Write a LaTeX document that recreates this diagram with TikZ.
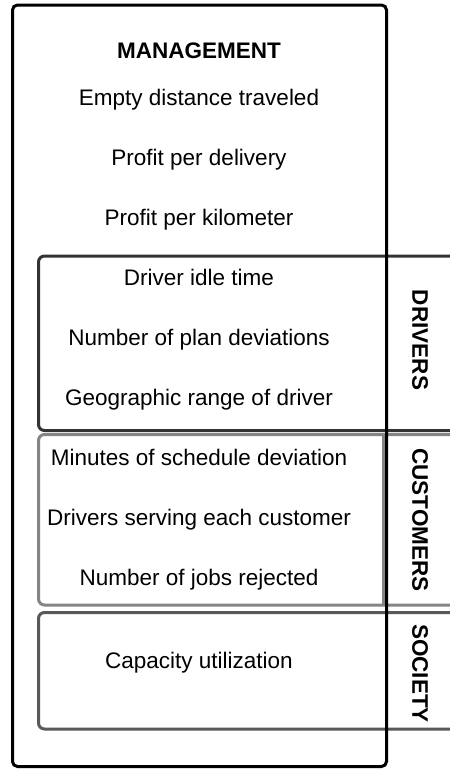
\documentclass[tikz,border=0pt]{standalone}
\usepackage{fontspec}
\setmainfont{Liberation Sans}
\begin{document}
\begin{tikzpicture}[x=1pt,y=-1pt,
  txt/.style={font=\fontsize{22.5}{27}\selectfont, anchor=base, inner sep=0pt},
  head/.style={txt, font=\fontsize{22.5}{27}\selectfont\bfseries},
  side/.style={font=\fontsize{22.5}{27}\selectfont\bfseries, rotate=-90, inner sep=0pt},
  group/.style={line width=3pt, rounded corners=6pt},
  outer/.style={line width=3pt, rounded corners=5pt, draw=black}]
\useasboundingbox (0,0) rectangle (450,769);
\fill[white] (0,0) rectangle (450,769);

% stakeholder groups, open to the right
\draw[group, draw=black!80] (455,256) -- (38.5,256) -- (38.5,430.5) -- (455,430.5);
\draw[group, draw=black!48] (455,434.5) -- (38.5,434.5) -- (38.5,605) -- (455,605);
\draw[line width=3pt, draw=black!48] (383.5,434.5) -- (383.5,605);
\draw[group, draw=black!65] (455,612.5) -- (38.5,612.5) -- (38.5,729) -- (455,729);

% outer frame
\draw[outer] (12.5,5) rectangle (386.5,766.5);

% management metrics
\node[head] (mg) at (199,58) {MANAGEMENT};
\node[txt] (m1) at (199,105) {Empty distance traveled};
\node[txt] (m2) at (199,165) {Profit per delivery};
\node[txt] (m3) at (199,225) {Profit per kilometer};

% driver metrics
\node[txt] (d1) at (199,285) {Driver idle time};
\node[txt] (d2) at (199,345) {Number of plan deviations};
\node[txt] (d3) at (199,405) {Geographic range of driver};

% customer metrics
\node[txt] (c1) at (199,465) {Minutes of schedule deviation};
\node[txt] (c2) at (199,525) {Drivers serving each customer};
\node[txt] (c3) at (199,585) {Number of jobs rejected};

% society metric
\node[txt] (s1) at (199,668) {Capacity utilization};

% group labels
\node[side] (ld) at (420,340) {DRIVERS};
\node[side] (lc) at (420,520) {CUSTOMERS};
\node[side] (ls) at (420,673.5) {SOCIETY};
\end{tikzpicture}
\end{document}
